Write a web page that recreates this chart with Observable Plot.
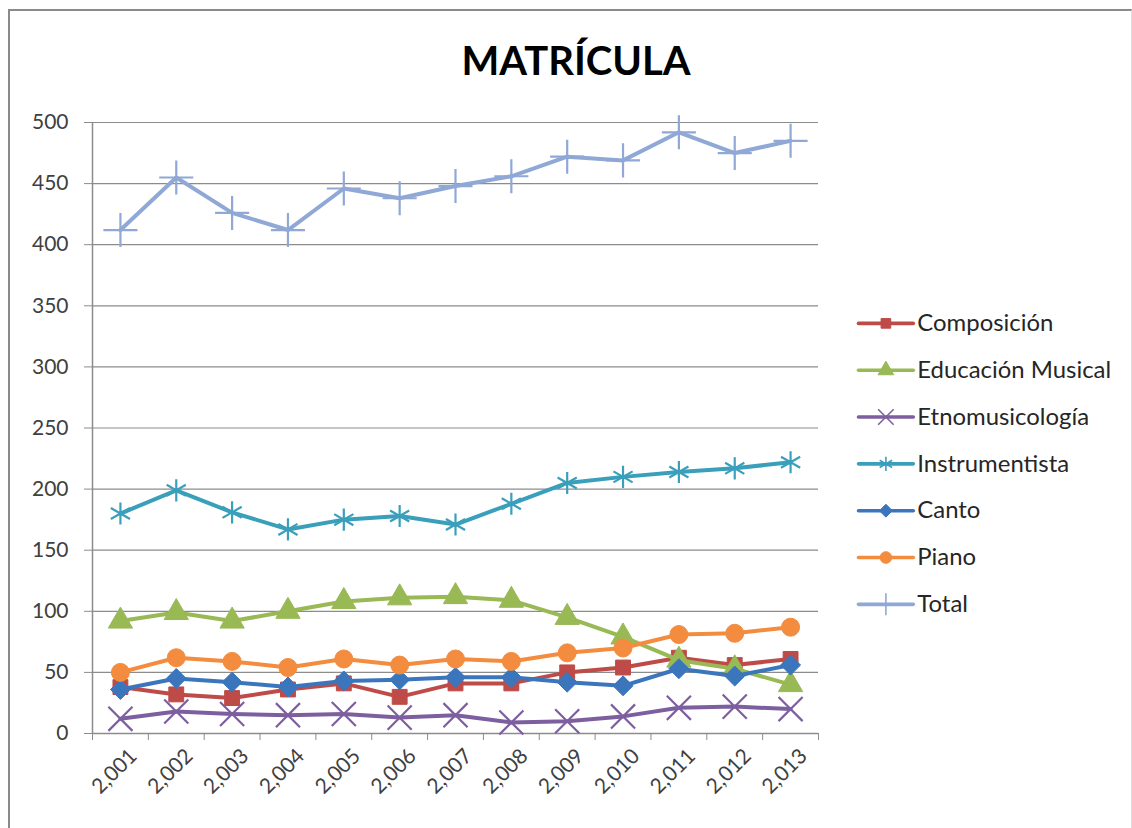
<!DOCTYPE html>
<html><head><meta charset="utf-8">
<script src="https://cdn.jsdelivr.net/npm/d3@7"></script>
<script src="https://cdn.jsdelivr.net/npm/@observablehq/plot@0.6"></script>
<style>
body{margin:0;background:#fff;}
#wrap{position:relative;width:1132px;height:828px;font-family:Lato,"Open Sans",sans-serif;overflow:hidden;}
#frame{position:absolute;left:8px;top:9px;width:1121px;height:830px;border-left:2px solid #8a8a8a;border-top:2px solid #8a8a8a;border-right:1px solid #dcdcdc;}
#title{position:absolute;left:0;width:1152px;top:36px;text-align:center;font-weight:700;font-size:40px;color:#000;}
#chart{position:absolute;left:0;top:0;}
#legend{position:absolute;left:858px;top:290px;}
</style>
</head><body>
<div id="wrap"><div id="frame"></div><div id="chart"></div><div id="legend"></div><div id="title">MATRÍCULA</div></div>
<script>
const years = [2001,2002,2003,2004,2005,2006,2007,2008,2009,2010,2011,2012,2013];
const composicion    = [38,32,29,36,41,30,41,41,50,54,62,56,61];
const educacion      = [92,99,92,100,108,111,112,109,95,79,60,53,40];
const etnomusicologia= [12,18,16,15,16,13,15,9,10,14,21,22,20];
const instrumentista = [180,199,181,167,175,178,171,188,205,210,214,217,222];
const canto          = [36,45,42,38,43,44,46,46,42,39,53,47,56];
const piano          = [50,62,59,54,61,56,61,59,66,70,81,82,87];
const total          = [412,455,426,412,446,438,448,456,472,469,492,475,485];

const seriesNames  = ["Composición","Educación Musical","Etnomusicología","Instrumentista","Canto","Piano","Total"];
const seriesValues = [composicion,educacion,etnomusicologia,instrumentista,canto,piano,total];
const seriesColors = ["#BE4B48","#98B954","#7D5FA0","#3A9FBB","#3B76BC","#F38C3E","#8FA8D6"];
const seriesSymbols= ["square","triangle","times","asterisk","diamond2","circle","plus"];
const seriesFilled = [true,true,false,false,true,true,false];
const seriesR      = [8.4,9,11,10.5,9,9,11];
const yTicks = [0,50,100,150,200,250,300,350,400,450,500];

const series = seriesNames.map((name,i)=>({
  name, color: seriesColors[i], symbol: seriesSymbols[i], filled: seriesFilled[i], r: seriesR[i],
  rows: years.map((yr,j)=>({year: yr, value: seriesValues[i][j], name}))
}));
const boundaries = [years[0]-0.5, ...years.map(y=>y+0.5)];

const marks = [
  Plot.ruleY(yTicks.slice(1), {stroke:"#8c8c8c", strokeWidth:1.2}),
  Plot.ruleX([boundaries[0]], {stroke:"#8c8c8c", strokeWidth:1.5}),
  Plot.ruleY([0], {stroke:"#8c8c8c", strokeWidth:1.5}),
  Plot.axisY({ticks: yTicks, tickSize: 8, tickPadding: 16, stroke:"#8c8c8c", fill:"#404040", fontSize: 21, tickFormat: d3.format("d"), label: null}),
  Plot.axisX({ticks: boundaries, tickSize: 7, tickFormat: ()=> "", stroke:"#8c8c8c", label: null}),
  Plot.text(years, {x: d=>d, y: ()=>0, text: d3.format(","), rotate: -45, textAnchor: "end", lineAnchor: "middle", dx: 13, dy: 19, fill:"#404040", fontSize: 21})
];
for (const s of series) {
  marks.push(Plot.line(s.rows, {x:"year", y:"value", stroke: s.color, strokeWidth: 4, strokeLinejoin:"round"}));
  marks.push(Plot.dot(s.rows, {x:"year", y:"value", symbol: ()=>s.symbol, r: s.r,
    fill: s.filled ? s.color : "none", stroke: s.color, strokeWidth: s.filled ? 1 : 2.2}));
}

const chart = Plot.plot({
  width: 1132, height: 828,
  marginTop: 122, marginBottom: 95, marginLeft: 92, marginRight: 314,
  style: {fontFamily: "Lato, 'Open Sans', sans-serif", background: "transparent", overflow: "visible"},
  x: {type: "linear", domain: [years[0]-0.5, years[years.length-1]+0.5], axis: null},
  y: {domain: [0, 500]},
  symbol: {type: "identity"},
  marks
});
document.getElementById("chart").appendChild(chart);

// legend
const legMarks = [];
for (const s of series) {
  const pts = [{name:s.name, x:0},{name:s.name, x:1}];
  legMarks.push(Plot.line(pts, {x:"x", y:"name", stroke: s.color, strokeWidth: 3.6}));
  legMarks.push(Plot.dot([{name:s.name, x:0.5}], {x:"x", y:"name", symbol: ()=>s.symbol, r: s.r*0.65,
    fill: s.filled ? s.color : "none", stroke: s.color, strokeWidth: s.filled ? 1 : 1.6}));
  legMarks.push(Plot.text([{name:s.name, x:1}], {x:"x", y:"name", text:"name", textAnchor:"start", dx: 4, fontSize: 24, fill:"#262626"}));
}
const legend = Plot.plot({
  width: 275, height: 340, marginTop: 0, marginBottom: 0, marginLeft: 0, marginRight: 0,
  style: {fontFamily: "Lato, 'Open Sans', sans-serif", background: "transparent", overflow: "visible"},
  x: {domain: [0,1], range: [0,55], axis: null},
  y: {type: "point", domain: seriesNames, range: [30, 317], padding: 0, axis: null},
  symbol: {type: "identity"},
  marks: legMarks
});
document.getElementById("legend").appendChild(legend);
</script>
</body></html>
